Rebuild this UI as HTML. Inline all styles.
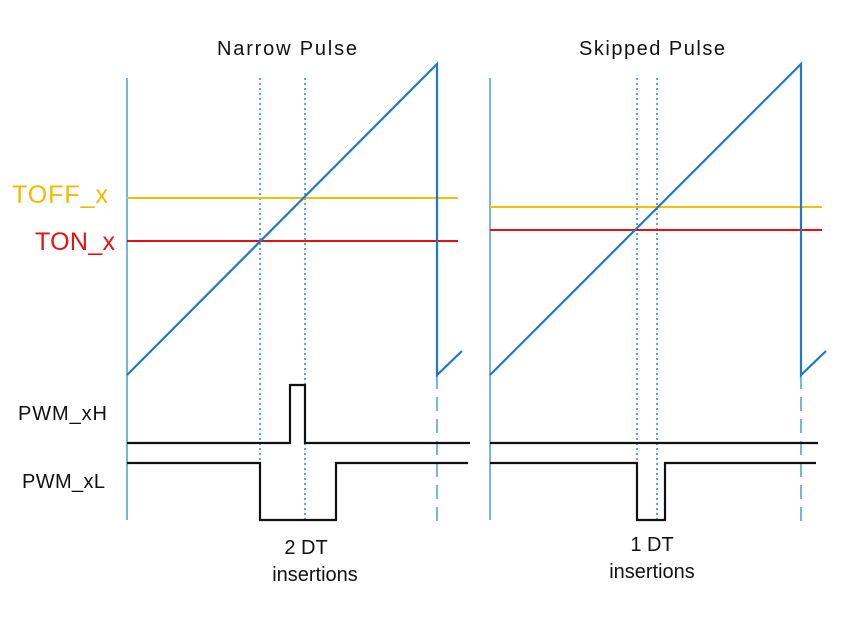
<!DOCTYPE html>
<html><head><meta charset="utf-8"><style>
html,body{margin:0;padding:0;background:#fff;}
svg{display:block;font-family:"Liberation Sans","DejaVu Sans",sans-serif;}
</style></head><body>
<svg id="c" width="850" height="619" viewBox="0 0 850 619">
<text x="287" y="55" font-size="20" textLength="140" text-anchor="middle" fill="#111">Narrow Pulse</text>
<text x="652" y="55" font-size="20" textLength="146" text-anchor="middle" fill="#111">Skipped Pulse</text>
<text x="12" y="203" font-size="25" textLength="96" fill="#f5b800">TOFF_x</text>
<text x="35" y="250" font-size="25" textLength="80" fill="#e81010">TON_x</text>
<text x="18" y="420" font-size="20" textLength="89" fill="#111">PWM_xH</text>
<text x="22" y="488" font-size="20" textLength="83" fill="#111">PWM_xL</text>
<text x="306" y="554" font-size="20" text-anchor="middle" fill="#111">2 DT</text>
<text x="315" y="581" font-size="20" text-anchor="middle" fill="#111">insertions</text>
<text x="652" y="551" font-size="20" text-anchor="middle" fill="#111">1 DT</text>
<text x="652" y="578" font-size="20" text-anchor="middle" fill="#111">insertions</text>
<g id="g"></g>
</svg>
<script>
const panelStarts=[127,490];
const panelEnds=[437,801];
const toffLevels=[198,207];
const tonLevels=[241,230];
const levelEnds=[458,822];
const dtStarts=[260,637];
const dtEnds=[305,657];
const xhPulseStart=[290,null];
const xlLowEnd=[336,665];
const traceEnds=[470,818];
const ns="http://www.w3.org/2000/svg";
const g=document.getElementById('g');
function L(x1,y1,x2,y2,stroke,w,dash,name){
  const e=document.createElementNS(ns,'line');
  e.setAttribute('x1',x1);e.setAttribute('y1',y1);e.setAttribute('x2',x2);e.setAttribute('y2',y2);
  e.setAttribute('stroke',stroke);e.setAttribute('stroke-width',w);
  if(dash)e.setAttribute('stroke-dasharray',dash);
  
  
  g.appendChild(e);return e;
}
function P(d,stroke,w,name){
  const e=document.createElementNS(ns,'path');
  e.setAttribute('d',d);e.setAttribute('fill','none');e.setAttribute('stroke',stroke);e.setAttribute('stroke-width',w);
  
  
  g.appendChild(e);return e;
}
const rampTop=64,rampBot=375,hiY=443,pulseY=385,xlHi=463,xlLo=520;
for(let i=0;i<2;i++){
  const s=panelStarts[i],e=panelEnds[i];
  L(s,78,s,520,'#7ab3e0',2,null,'period-start-line');
  L(e,rampBot,e,527,'#7ab3e0',2,'14 8','period-end-dashed-line');
  L(dtStarts[i],78,dtStarts[i],520,'#2f86cc',1.5,'2 3','dt-start-dotted-line');
  L(dtEnds[i],78,dtEnds[i],520,'#2f86cc',1.5,'2 3','dt-end-dotted-line');
  L(s,toffLevels[i],levelEnds[i],toffLevels[i],'#f5c000',2,null,'toff-level');
  L(s,tonLevels[i],levelEnds[i],tonLevels[i],'#e81010',2,null,'ton-level');
  P(`M${s},${rampBot}L${e},${rampTop}L${e},${rampBot}L${e+25},${rampBot-24}`,'#1f78c8',2.2,'counter-ramp');
  let xh=`M${s},${hiY}`;
  if(xhPulseStart[i]!=null) xh+=`L${xhPulseStart[i]},${hiY}L${xhPulseStart[i]},${pulseY}L${dtEnds[i]},${pulseY}L${dtEnds[i]},${hiY}`;
  xh+=`L${traceEnds[i]},${hiY}`;
  P(xh,'#111',2.2,'pwm-xh-trace');
  P(`M${s},${xlHi}L${dtStarts[i]},${xlHi}L${dtStarts[i]},${xlLo}L${xlLowEnd[i]},${xlLo}L${xlLowEnd[i]},${xlHi}L${traceEnds[i]-2},${xlHi}`,'#111',2.2,'pwm-xl-trace');
}
</script>
</body></html>
